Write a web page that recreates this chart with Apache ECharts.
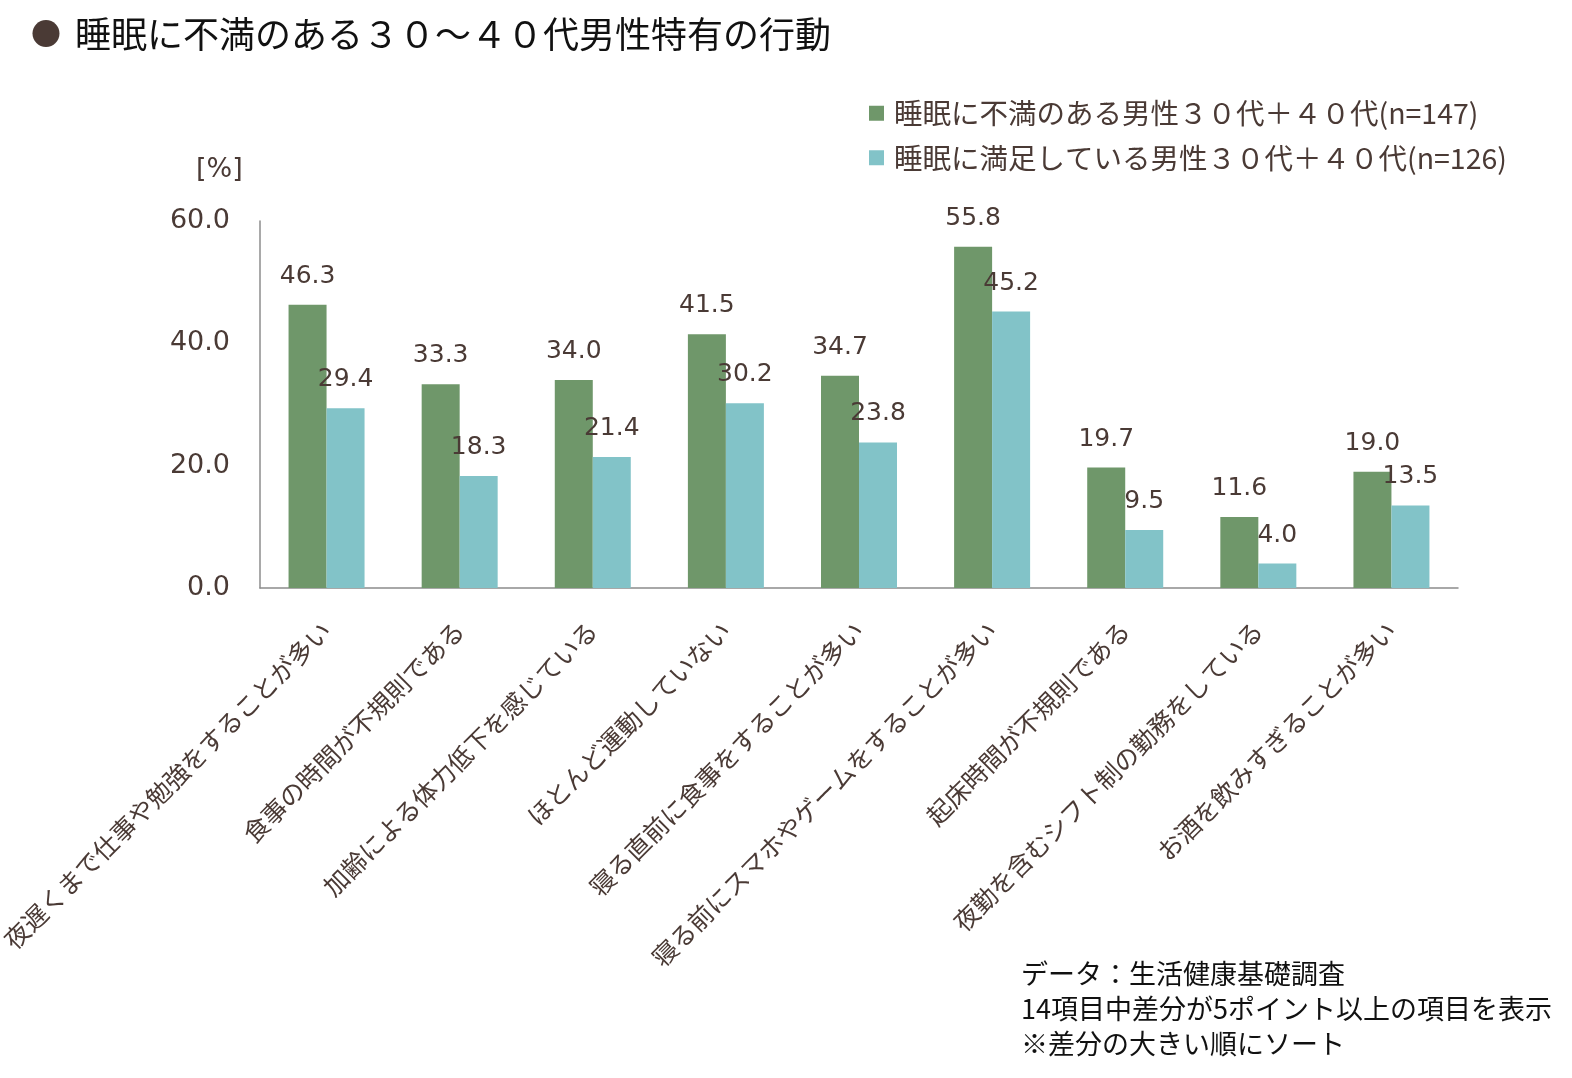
<!DOCTYPE html>
<html>
<head>
<meta charset="utf-8">
<script src="https://cdn.jsdelivr.net/npm/echarts@6/dist/echarts.min.js"></script>
<style>
  html, body { margin: 0; padding: 0; background: #fff; }
  #main { width: 1572px; height: 1078px; }
</style>
</head>
<body>
<div id="main"></div>
<script>
const categories = [
  "夜遅くまで仕事や勉強をすることが多い",
  "食事の時間が不規則である",
  "加齢による体力低下を感じている",
  "ほとんど運動していない",
  "寝る直前に食事をすることが多い",
  "寝る前にスマホやゲームをすることが多い",
  "起床時間が不規則である",
  "夜勤を含むシフト制の勤務をしている",
  "お酒を飲みすぎることが多い"
];
const unsatisfied = [46.3, 33.3, 34.0, 41.5, 34.7, 55.8, 19.7, 11.6, 19.0];
const satisfied = [29.4, 18.3, 21.4, 30.2, 23.8, 45.2, 9.5, 4.0, 13.5];
const seriesNames = [
  "睡眠に不満のある男性３０代＋４０代(n=147)",
  "睡眠に満足している男性３０代＋４０代(n=126)"
];

const brown = "#4a3a35";
const cjk = "'Noto Sans CJK JP', sans-serif";
const num = "'DejaVu Sans', sans-serif";

const chart = echarts.init(document.getElementById("main"));

const option = {
  animation: false,
  backgroundColor: "#ffffff",
  title: [
    {
      text: "{dot|●}{t|睡眠に不満のある３０～４０代男性特有の行動}",
      left: 26,
      top: 11,
      textStyle: {
        rich: {
          dot: { color: brown, fontSize: 30, fontFamily: cjk, padding: [0, 14, 0, 0] },
          t: { color: "#111", fontSize: 36, fontWeight: "normal", fontFamily: cjk }
        }
      }
    },
    {
      text: "[%]",
      left: 191,
      top: 151,
      textStyle: { color: brown, fontSize: 27, fontWeight: "normal", fontFamily: num }
    },
    {
      text: "データ：生活健康基礎調査\n14項目中差分が5ポイント以上の項目を表示\n※差分の大きい順にソート",
      left: 1016,
      top: 951,
      textStyle: { color: "#111", fontSize: 27, fontWeight: "normal", fontFamily: cjk, lineHeight: 35 }
    }
  ],
  legend: {
    orient: "vertical",
    left: 864,
    top: 94,
    itemWidth: 15,
    itemHeight: 15,
    itemGap: 16,
    icon: "rect",
    data: seriesNames,
    textStyle: { color: brown, fontSize: 28.5, fontFamily: cjk, padding: [0, 0, 0, 5] }
  },
  grid: {
    left: 260,
    right: 114,
    top: 221,
    bottom: 490,
    containLabel: false,
    outerBoundsMode: "none"
  },
  xAxis: {
    type: "category",
    data: categories,
    axisLine: { lineStyle: { color: "#8c8c8c", width: 1.5 } },
    axisTick: { show: false },
    axisLabel: {
      rotate: 45,
      interval: 0,
      margin: 38,
      color: brown,
      fontSize: 25,
      fontFamily: cjk
    }
  },
  yAxis: {
    type: "value",
    min: 0,
    max: 60,
    interval: 20,
    axisLine: { show: true, lineStyle: { color: "#8c8c8c", width: 1.5 } },
    axisTick: { show: false },
    splitLine: { show: false },
    axisLabel: {
      margin: 30,
      color: brown,
      fontSize: 27,
      fontFamily: num,
      formatter: v => v.toFixed(1)
    }
  },
  series: [
    {
      name: seriesNames[0],
      type: "bar",
      data: unsatisfied,
      barWidth: 38,
      barGap: "0%",
      itemStyle: { color: "#6f976a" },
      label: {
        show: true,
        position: "top",
        distance: 16,
        color: brown,
        fontSize: 25,
        fontFamily: num,
        formatter: p => p.value.toFixed(1)
      }
    },
    {
      name: seriesNames[1],
      type: "bar",
      data: satisfied,
      barWidth: 38,
      itemStyle: { color: "#82c3c8" },
      label: {
        show: true,
        position: "top",
        distance: 16,
        color: brown,
        fontSize: 25,
        fontFamily: num,
        formatter: p => p.value.toFixed(1)
      }
    }
  ]
};

chart.setOption(option);
</script>
</body>
</html>
